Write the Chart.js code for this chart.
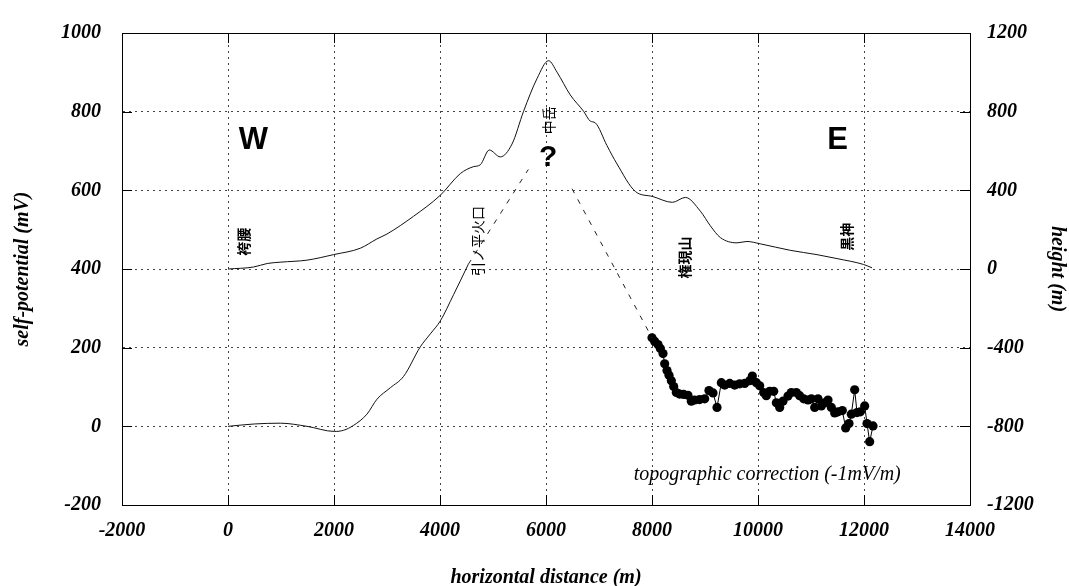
<!DOCTYPE html>
<html><head><meta charset="utf-8">
<script src="https://cdn.jsdelivr.net/npm/chart.js@4.4.1/dist/chart.umd.min.js"></script>
<style>html,body{margin:0;padding:0;background:#fff;} #c{display:block;}</style>
</head><body>
<canvas id="c" width="1069" height="586"></canvas>
<script>
// ---- data ----
// topography profile, height (m), right axis
const topoX = [0,480,740,1000,1490,1990,2500,2810,3000,3500,4006,4383,4628,4760,4930,5138,5358,5577,5830,6049,6208,6458,6709,6836,6930,7151,7340,7687,8008,8385,8630,8913,9100,9289,9604,9792,10043,10609,11113,11490,11992,12151];
const topoH = [0,10,28,35,45,73,106,153,178,268,375,485,520,530,605,570,635,802,968,1059,1001,885,802,752,743,627,534,394,369,339,364,294,220,160,133,140,128,95,73,53,23,6];
// self-potential, continuous line segment (mV), left axis
const spLineX = [0,496,987,1490,2011,2181,2364,2622,2811,3062,3313,3628,3817,4006,4257,4509,4534];
const spLineY = [0,6,8,0,-13,-10,2,31,69,98,127,202,235,268,335,405,412];
// inferred (dashed) SP trend, gap under the "?"
const dashX = [4534,5666,6043,6491,8000];
const dashY = [412,653,null,604,225];
// measured SP points (mV)
const dotX = [8000,8050,8113,8157,8208,8239,8283,8321,8365,8409,8459,8522,8598,8679,8742,8805,8899,8994,9075,9151,9227,9308,9371,9466,9560,9654,9749,9843,9893,9969,10032,10107,10157,10220,10296,10346,10409,10471,10566,10629,10723,10786,10862,10944,11007,11070,11132,11195,11258,11321,11384,11447,11510,11591,11654,11717,11761,11824,11868,11931,12013,12057,12107,12170];
const dotY = [225,216,208,198,185,159,142,130,116,101,86,82,81,79,64,67,68,70,91,85,48,111,105,109,105,108,109,116,128,111,103,86,78,89,89,60,48,64,77,86,86,78,70,67,70,48,70,52,60,67,48,34,37,40,-4,7,31,93,35,37,52,7,-39,1];
// tick settings
const xRange = [-2000, 14000], xStep = 2000;
const spRange = [-200, 1000], spStep = 200;
const hRange = [-1200, 1200], hStep = 400;

// text annotations placed in data space (x: m, y: mV)
const notes = [
  {t:'W', x:480, y:728, font:'bold 31px "Liberation Sans", Arial, sans-serif'},
  {t:'E', x:11500, y:728, font:'bold 31px "Liberation Sans", Arial, sans-serif'},
  {t:'?', x:6043, y:683, font:'bold 30px "Liberation Sans", Arial, sans-serif'},
  {t:'中岳', x:6043, y:778, rot:true, font:'14px "Noto Sans CJK JP", sans-serif'},
  {t:'引ノ平火口', x:4704, y:471, rot:true, font:'14px "Noto Sans CJK JP", sans-serif'},
  {t:'袴腰', x:289, y:469, rot:true, font:'bold 14px "Noto Sans CJK JP", sans-serif'},
  {t:'権現山', x:8609, y:429, rot:true, font:'bold 14px "Noto Sans CJK JP", sans-serif'},
  {t:'黒神', x:11666, y:482, rot:true, font:'bold 14px "Noto Sans CJK JP", sans-serif'},
  {t:'topographic correction (-1mV/m)', x:10175, y:-124, font:'italic 20px "Liberation Serif", "Times New Roman", serif'}
];

const serifBI = {family:'"Liberation Serif", "Times New Roman", serif', size:20, weight:'bold', style:'italic'};
const gridOpts = {color:'#444', lineWidth:1, drawTicks:false};
const borderOpts = {display:true, color:'#000', width:1, dash:[2,4]};
const plain = v => String(v);

const framePlugin = {
  id:'frame',
  afterDatasetsDraw(chart){
    const {ctx, chartArea:a, scales} = chart;
    ctx.save();
    ctx.strokeStyle = '#000'; ctx.lineWidth = 1; ctx.setLineDash([]);
    ctx.strokeRect(Math.round(a.left)+0.5, Math.round(a.top)+0.5, Math.round(a.width), Math.round(a.height));
    const L = 10;
    ctx.beginPath();
    scales.x.ticks.forEach(t => {
      const p = Math.round(scales.x.getPixelForValue(t.value)) + 0.5;
      ctx.moveTo(p, a.bottom); ctx.lineTo(p, a.bottom - L);
      ctx.moveTo(p, a.top); ctx.lineTo(p, a.top + L);
    });
    scales.y.ticks.forEach(t => {
      const p = Math.round(scales.y.getPixelForValue(t.value)) + 0.5;
      ctx.moveTo(a.left, p); ctx.lineTo(a.left + L, p);
    });
    scales.y2.ticks.forEach(t => {
      const p = Math.round(scales.y2.getPixelForValue(t.value)) + 0.5;
      ctx.moveTo(a.right, p); ctx.lineTo(a.right - L, p);
    });
    ctx.stroke();
    ctx.restore();
  }
};

const notesPlugin = {
  id:'notes',
  afterDraw(chart){
    const {ctx, scales} = chart;
    ctx.save();
    ctx.fillStyle = '#000';
    ctx.textAlign = 'center'; ctx.textBaseline = 'middle';
    notes.forEach(n => {
      const px = scales.x.getPixelForValue(n.x);
      const py = scales.y.getPixelForValue(n.y);
      ctx.font = n.font;
      ctx.save();
      ctx.translate(px, py);
      if (n.rot) ctx.rotate(-Math.PI/2);
      ctx.fillText(n.t, 0, 0);
      ctx.restore();
    });
    ctx.restore();
  }
};

new Chart(document.getElementById('c'), {
  type:'scatter',
  data:{datasets:[
    {label:'height', data: topoX.map((x,i)=>({x, y:topoH[i]})), yAxisID:'y2', showLine:true,
     borderColor:'#111', borderWidth:1, pointRadius:0, cubicInterpolationMode:'monotone'},
    {label:'SP', data: spLineX.map((x,i)=>({x, y:spLineY[i]})), yAxisID:'y', showLine:true,
     borderColor:'#111', borderWidth:1, pointRadius:0, cubicInterpolationMode:'monotone'},
    {label:'SP inferred', data: dashX.map((x,i)=>({x, y:dashY[i]})), yAxisID:'y', showLine:true, spanGaps:false,
     borderColor:'#222', borderWidth:1, borderDash:[5,7], pointRadius:0},
    {label:'SP measured', data: dotX.map((x,i)=>({x, y:dotY[i]})), yAxisID:'y', showLine:true,
     borderColor:'#000', borderWidth:1, pointRadius:4.6, pointBackgroundColor:'#000', pointBorderWidth:0}
  ]},
  options:{
    responsive:false, animation:false, devicePixelRatio:1,
    layout:{padding:{top:23, left:0, right:0, bottom:0}},
    plugins:{legend:{display:false}, tooltip:{enabled:false}},
    scales:{
      x:{type:'linear', position:'bottom', min:xRange[0], max:xRange[1],
         ticks:{stepSize:xStep, font:serifBI, color:'#000', padding:14, maxRotation:0, autoSkip:false, callback:plain},
         grid:gridOpts, border:borderOpts,
         title:{display:true, text:'horizontal distance (m)', color:'#000', font:{...serifBI, lineHeight:0.8}, padding:{top:0,bottom:0}},
         afterFit(s){ s.height = 81; }},
      y:{type:'linear', position:'left', min:spRange[0], max:spRange[1],
         ticks:{stepSize:spStep, font:serifBI, color:'#000', padding:21, callback:plain},
         grid:gridOpts, border:borderOpts,
         title:{display:true, text:'self-potential (mV)', color:'#000', font:serifBI, padding:{top:11,bottom:0}},
         afterFit(s){ s.width = 122; }},
      y2:{type:'linear', position:'right', min:hRange[0], max:hRange[1],
         ticks:{stepSize:hStep, font:serifBI, color:'#000', padding:17, callback:plain},
         grid:{display:false, drawTicks:false}, border:{display:true, color:'#000', width:1},
         title:{display:true, text:'height (m)', color:'#000', font:serifBI, padding:{top:0,bottom:0}},
         afterFit(s){ s.width = 99; }}
    }
  },
  plugins:[framePlugin, notesPlugin]
});
</script>
</body></html>
